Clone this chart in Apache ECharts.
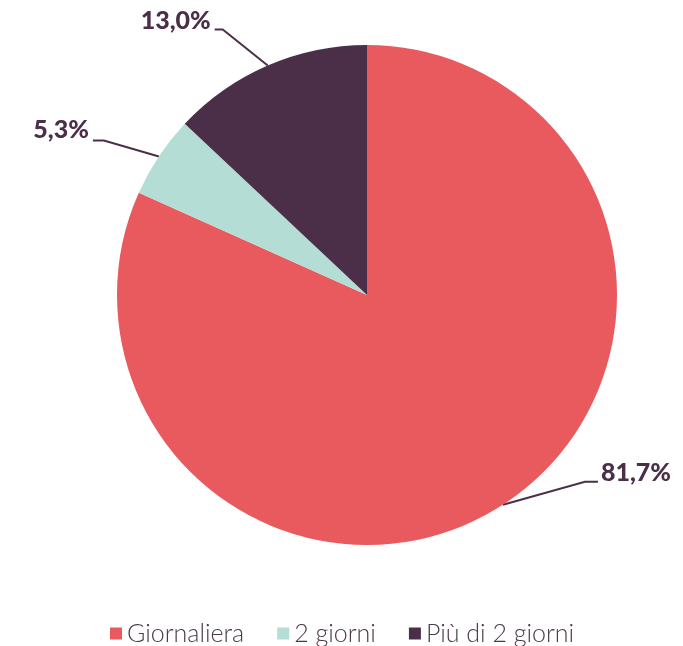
<!DOCTYPE html>
<html>
<head>
<meta charset="utf-8">
<script src="https://cdn.jsdelivr.net/npm/echarts@6/dist/echarts.min.js"></script>
<style>
html,body{margin:0;padding:0;background:#fff;}
#chart{width:683px;height:646px;}
</style>
</head>
<body>
<div id="chart"></div>
<script>
const categories = ['Giornaliera', '2 giorni', 'Più di 2 giorni'];
const values = [81.7, 5.3, 13.0];
const valueLabels = ['81,7%', '5,3%', '13,0%'];
const colors = ['#E95A5E', '#B3DDD5', '#4B2F48'];

// label line geometry offsets (relative to the slice edge anchor computed by ECharts)
const lineOffsets = [
  { p1: [82, -23], p2: [95, -23], text: [98, -32], align: 'left' },
  { p1: [-55, -16], p2: [-66, -16], text: [-70, -26], align: 'right' },
  { p1: [-45, -36], p2: [-53, -36], text: [-57, -45], align: 'right' }
];

const chart = echarts.init(document.getElementById('chart'));
chart.setOption({
  animation: false,
  color: colors,
  legend: {
    data: categories,
    left: 110,
    top: 621,
    padding: 0,
    itemWidth: 12,
    itemHeight: 12,
    itemGap: 33,
    icon: 'rect',
    textStyle: {
      fontFamily: 'Lato',
      fontWeight: 300,
      fontSize: 25,
      color: '#4B3A4A'
    }
  },
  series: [{
    type: 'pie',
    center: [367, 295],
    radius: 250,
    startAngle: 90,
    clockwise: true,
    data: categories.map((c, i) => ({ name: c, value: values[i] })),
    label: {
      show: true,
      position: 'outside',
      formatter: p => valueLabels[p.dataIndex],
      fontFamily: 'Lato',
      fontWeight: 900,
      fontSize: 25,
      color: '#4B2F48'
    },
    labelLine: {
      show: true,
      length: 20,
      length2: 10,
      lineStyle: { color: '#4B2F48', width: 2 }
    },
    labelLayout: function (params) {
      const o = lineOffsets[params.dataIndex];
      const p0 = params.labelLinePoints[0];
      return {
        x: p0[0] + o.text[0],
        y: p0[1] + o.text[1],
        align: o.align,
        verticalAlign: 'middle',
        labelLinePoints: [
          [p0[0], p0[1]],
          [p0[0] + o.p1[0], p0[1] + o.p1[1]],
          [p0[0] + o.p2[0], p0[1] + o.p2[1]]
        ]
      };
    },
    itemStyle: { borderWidth: 0 },
    emphasis: { disabled: true }
  }]
});
</script>
</body>
</html>
